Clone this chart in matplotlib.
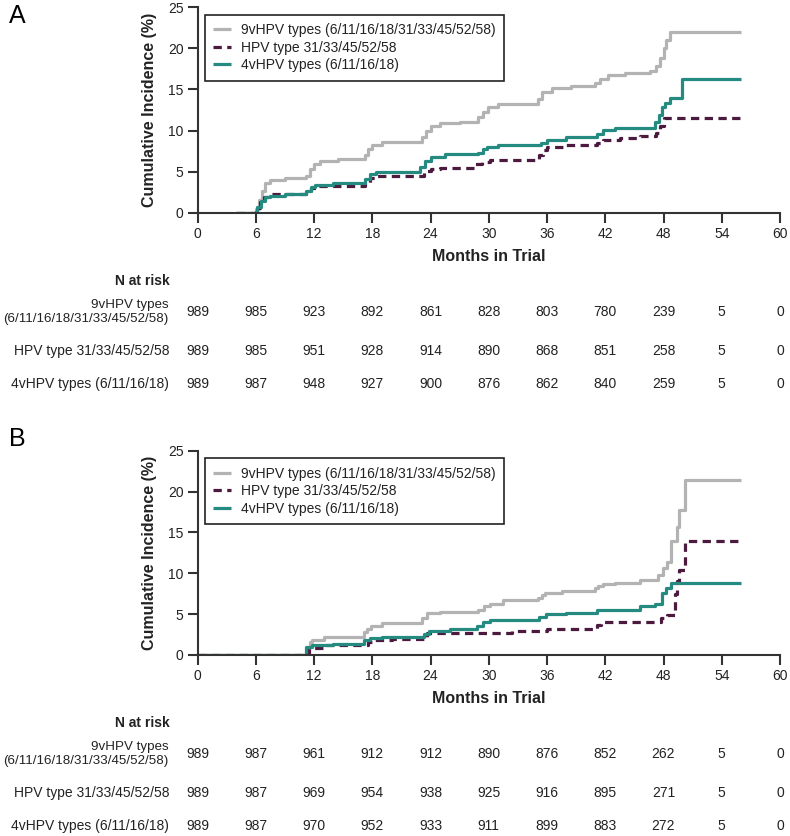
import matplotlib
matplotlib.use('Agg')
import matplotlib.pyplot as plt
import matplotlib.transforms as mtransforms

plt.rcParams['font.family'] = ['Liberation Sans', 'DejaVu Sans']

# ---------------- data ----------------
series_labels = ['9vHPV types (6/11/16/18/31/33/45/52/58)',
                 'HPV type 31/33/45/52/58',
                 '4vHPV types (6/11/16/18)']
risk_row_labels = ['9vHPV types\n(6/11/16/18/31/33/45/52/58)',
                   'HPV type 31/33/45/52/58',
                   '4vHPV types (6/11/16/18)']
risk_times = [0, 6, 12, 18, 24, 30, 36, 42, 48, 54, 60]

# Panel A curves (months, cumulative incidence %)
a_9v_t = [4.0, 6.0, 6.3, 6.6, 7.0, 7.5, 9.0, 11.2, 11.6, 12.0, 12.6, 14.5, 17.3, 17.6, 18.0, 19.0,
          23.1, 23.5, 24.0, 25.0, 27.0, 28.9, 29.4, 29.9, 31.0, 35.1, 35.5, 36.5, 38.5, 40.9, 41.5,
          42.3, 44.0, 46.6, 47.2, 47.6, 48.0, 48.3, 48.7, 56.0]
a_9v_y = [0.0, 0.5, 1.6, 2.7, 3.6, 4.0, 4.2, 4.5, 5.3, 5.9, 6.3, 6.5, 7.0, 7.8, 8.3, 8.6,
          9.2, 10.0, 10.5, 10.9, 11.1, 11.6, 12.3, 12.9, 13.2, 13.8, 14.7, 15.2, 15.4, 15.8, 16.3,
          16.7, 17.0, 17.3, 17.8, 18.8, 20.0, 21.0, 22.0, 22.0]

a_31_t = [4.0, 6.0, 6.4, 6.8, 7.3, 11.2, 11.7, 12.2, 17.3, 17.8, 18.4, 23.3, 24.0, 25.0, 28.6, 29.3,
          30.1, 35.2, 35.6, 36.0, 38.0, 41.1, 41.8, 43.5, 45.6, 47.2, 47.6, 48.0, 56.0]
a_31_y = [0.0, 0.6, 1.3, 1.9, 2.3, 2.5, 3.0, 3.3, 3.6, 4.2, 4.5, 5.1, 5.3, 5.4, 5.9, 6.2,
          6.4, 7.0, 7.6, 8.0, 8.3, 8.5, 8.85, 9.1, 9.3, 9.7, 10.6, 11.5, 11.5]

a_4v_t = [4.0, 6.1, 6.5, 7.0, 7.5, 9.0, 11.2, 11.7, 12.1, 14.0, 17.3, 17.8, 18.4, 22.9, 23.4, 24.1,
          25.5, 28.9, 29.4, 29.8, 31.0, 35.4, 36.0, 38.0, 41.1, 41.8, 43.0, 47.1, 47.5, 47.8, 48.2,
          48.7, 49.9, 56.0]
a_4v_y = [0.0, 0.7, 1.4, 1.9, 2.0, 2.3, 2.6, 3.1, 3.4, 3.6, 4.1, 4.7, 5.0, 5.6, 6.3, 6.8,
          7.1, 7.3, 7.7, 8.0, 8.3, 8.5, 8.85, 9.2, 9.6, 10.1, 10.35, 11.0, 11.9, 12.9, 13.4,
          13.9, 16.3, 16.3]

# Panel B curves
b_9v_t = [0.0, 11.4, 11.6, 11.8, 13.0, 17.2, 17.5, 17.9, 19.0, 23.1, 23.6, 25.0, 28.9, 29.5, 30.1,
          31.5, 35.1, 35.5, 35.8, 37.5, 40.9, 41.3, 41.8, 43.0, 45.6, 47.4, 47.9, 48.4, 48.8, 49.4,
          49.6, 50.2, 56.0]
b_9v_y = [0.0, 1.0, 1.6, 1.85, 2.2, 2.8, 3.2, 3.5, 3.9, 4.5, 5.1, 5.3, 5.5, 6.0, 6.3,
          6.7, 7.0, 7.3, 7.55, 7.8, 8.2, 8.5, 8.7, 8.85, 9.2, 9.8, 10.6, 11.4, 13.9, 15.7,
          17.7, 21.4, 21.4]

b_31_t = [0.0, 11.5, 13.2, 17.6, 18.0, 20.0, 23.6, 26.0, 30.1, 32.4, 36.0, 41.2, 41.6, 47.7, 48.4,
          49.2, 49.4, 49.6, 50.2, 56.0]
b_31_y = [0.0, 0.8, 1.2, 1.6, 1.85, 1.96, 2.65, 2.7, 2.75, 2.94, 3.15, 3.7, 4.08, 4.5, 4.9,
          7.5, 9.0, 10.4, 13.9, 13.9]

b_4v_t = [0.0, 11.2, 11.8, 14.0, 17.2, 17.8, 19.0, 23.3, 23.8, 26.0, 28.8, 29.4, 30.1, 35.2, 35.9,
          38.0, 41.2, 45.6, 47.1, 47.8, 48.3, 48.8, 56.0]
b_4v_y = [0.0, 1.0, 1.2, 1.3, 1.84, 2.1, 2.24, 2.6, 2.97, 3.15, 3.6, 4.0, 4.28, 4.6, 5.0,
          5.16, 5.5, 6.0, 6.3, 7.55, 8.2, 8.78, 8.78]

a_risk_9v = [989, 985, 923, 892, 861, 828, 803, 780, 239, 5, 0]
a_risk_31 = [989, 985, 951, 928, 914, 890, 868, 851, 258, 5, 0]
a_risk_4v = [989, 987, 948, 927, 900, 876, 862, 840, 259, 5, 0]
b_risk_9v = [989, 987, 961, 912, 912, 890, 876, 852, 262, 5, 0]
b_risk_31 = [989, 987, 969, 954, 938, 925, 916, 895, 271, 5, 0]
b_risk_4v = [989, 987, 970, 952, 933, 911, 899, 883, 272, 5, 0]

# ---------------- style ----------------
C_GRAY = '#b3b3b3'
C_PURP = '#4b1a3e'
C_TEAL = '#258a80'
TXT = '#222222'
LW = 2.3

W, H = 790, 836
fig = plt.figure(figsize=(W / 100, H / 100), dpi=100)


def fx(px):
    return px / W


def fy(py):
    return 1 - py / H


def panel(top_px, bot_px, letter, letter_py, curves, risks):
    left, right = 197.5, 780
    ax = fig.add_axes([fx(left), fy(bot_px), fx(right - left), (bot_px - top_px) / H])
    styles = [dict(color=C_GRAY, lw=LW, ls='-'),
              dict(color=C_PURP, lw=LW, ls=(0, (2.6, 1.7))),
              dict(color=C_TEAL, lw=LW, ls='-')]
    for (t, y), st, lab in zip(curves, styles, series_labels):
        ax.step(t, y, where='post', label=lab, solid_capstyle='butt', dash_capstyle='butt', **st)
    ax.set_xlim(0, 60)
    ax.set_ylim(0, 25)
    ax.set_xticks(risk_times)
    ax.set_yticks([0, 5, 10, 15, 20, 25])
    for s in ['top', 'right']:
        ax.spines[s].set_visible(False)
    for s in ['left', 'bottom']:
        ax.spines[s].set_linewidth(1.5)
        ax.spines[s].set_color('#333333')
    ax.tick_params(axis='both', length=7, width=1.5, color='#333333', labelsize=10,
                   labelcolor=TXT, pad=3)
    ax.set_xlabel('Months in Trial', fontsize=11.5, fontweight='bold', color=TXT, labelpad=6)
    ax.set_ylabel('Cumulative Incidence (%)', fontsize=11.5, fontweight='bold', color=TXT,
                  labelpad=8)
    leg = ax.legend(loc='upper left', bbox_to_anchor=(0.013, 0.963), borderaxespad=0,
                    fontsize=10, frameon=True, fancybox=False, framealpha=1,
                    handlelength=1.3, handletextpad=0.7, labelspacing=0.25,
                    borderpad=0.6, edgecolor='#222222')
    leg.get_frame().set_linewidth(1.2)
    for txt in leg.get_texts():
        txt.set_color(TXT)
    fig.text(fx(9), fy(letter_py), letter, fontsize=18, color='black', va='center', ha='left')

    # N at risk table
    trans = mtransforms.blended_transform_factory(ax.transData, fig.transFigure)
    base = bot_px
    fig.text(fx(170), fy(base + 68), 'N at risk', fontsize=10, fontweight='bold',
             color=TXT, ha='right', va='center')
    row_offsets = [99, 138, 171]
    row_sizes = [9.6, 10, 10]
    for lab, vals, off, fs in zip(risk_row_labels, risks, row_offsets, row_sizes):
        fig.text(fx(169), fy(base + off), lab, fontsize=fs, color=TXT, ha='right',
                 va='center', multialignment='right', linespacing=1.25)
        for tm, v in zip(risk_times, vals):
            ax.text(tm, fy(base + off), str(v), transform=trans, fontsize=10, color=TXT,
                    ha='center', va='center')
    return ax


panel(7.3, 212.7, 'A', 16,
      [(a_9v_t, a_9v_y), (a_31_t, a_31_y), (a_4v_t, a_4v_y)],
      [a_risk_9v, a_risk_31, a_risk_4v])
panel(450.7, 655.0, 'B', 439,
      [(b_9v_t, b_9v_y), (b_31_t, b_31_y), (b_4v_t, b_4v_y)],
      [b_risk_9v, b_risk_31, b_risk_4v])

fig.savefig('out.png', dpi=100)
